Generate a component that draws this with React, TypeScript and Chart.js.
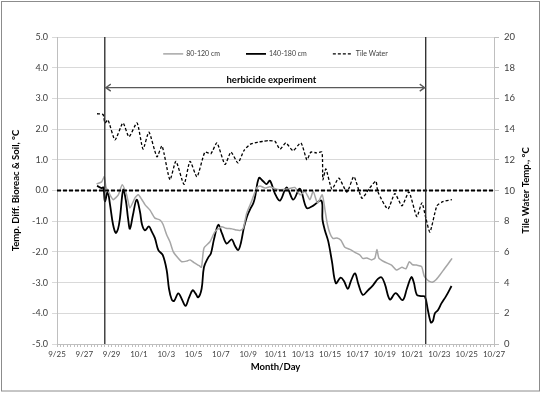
import React, { useEffect, useRef } from 'react';
import { Chart, registerables } from 'chart.js';

Chart.register(...registerables);

// x values are days after 9/25
const xMin = 0;
const xMax = 32;
const xTickLabels = ['9/25', '9/27', '9/29', '10/1', '10/3', '10/5', '10/7', '10/9', '10/11', '10/13', '10/15', '10/17', '10/19', '10/21', '10/23', '10/25', '10/27'];
const seriesNames = ['80-120 cm', '140-180 cm', 'Tile Water'];

const shallowDays = [2.90, 3.27, 3.46, 3.59, 3.76, 3.95, 4.12, 4.49, 4.78, 5.10, 5.34, 5.71, 5.95, 6.22, 6.44, 6.81, 7.17, 7.54, 7.76, 8.03, 8.27, 8.51, 8.88, 9.13, 9.49, 9.74, 10.03, 10.42, 10.58, 10.76, 11.20, 11.57, 12.06, 12.37, 12.81, 13.16, 13.40, 13.64, 13.89, 14.25, 14.62, 14.86, 15.23, 15.59, 16.20, 16.93, 17.42, 17.79, 18.16, 18.52, 18.76, 19.08, 19.42, 19.62, 19.80, 19.99, 20.20, 20.50, 20.79, 21.08, 21.45, 21.89, 22.18, 22.38, 22.69, 23.04, 23.28, 23.43, 23.57, 23.96, 24.50, 24.85, 25.26, 25.55, 25.80, 26.04, 26.33, 26.70, 26.89, 27.09, 27.31, 27.53, 27.77, 28.04, 28.37, 28.62, 28.93];
const shallowDiff = [0.21, 0.28, 0.45, 0.1, -0.03, -0.2, -0.3, -0.14, 0.19, -0.14, -0.57, -0.24, -0.14, -0.3, -0.46, -0.64, -0.9, -0.96, -1.1, -1.44, -1.67, -1.99, -2.21, -2.32, -2.3, -2.26, -2.35, -2.45, -2.5, -1.88, -1.67, -1.34, -1.18, -1.23, -1.25, -1.29, -1.3, -1.23, -0.74, -0.35, 0.08, 0.15, 0.08, 0.12, 0.03, 0.05, 0.1, -0.14, -0.03, -0.3, -0.03, -0.41, -0.14, -0.62, -1.1, -1.4, -1.56, -1.55, -1.62, -1.85, -1.92, -2.03, -2.1, -2.21, -2.2, -2.26, -2.2, -1.92, -2.2, -2.32, -2.43, -2.59, -2.5, -2.55, -2.32, -2.42, -2.43, -2.48, -2.79, -2.9, -2.97, -2.98, -2.9, -2.75, -2.55, -2.4, -2.21];

const deepDays = [2.93, 3.27, 3.40, 3.51, 3.71, 3.88, 4.10, 4.30, 4.47, 4.61, 4.85, 5.05, 5.20, 5.34, 5.56, 5.83, 6.08, 6.22, 6.44, 6.73, 6.95, 7.17, 7.42, 7.74, 8.03, 8.20, 8.40, 8.57, 8.88, 9.15, 9.41, 9.66, 9.93, 10.14, 10.34, 10.59, 10.76, 11.05, 11.27, 11.49, 11.81, 12.08, 12.42, 12.79, 13.03, 13.27, 13.47, 13.69, 13.91, 14.13, 14.37, 14.49, 14.79, 15.10, 15.35, 15.59, 15.96, 16.33, 16.82, 17.30, 17.79, 18.28, 18.74, 19.36, 19.44, 19.62, 19.86, 20.13, 20.42, 20.77, 21.01, 21.30, 21.52, 21.82, 22.07, 22.40, 22.77, 23.15, 23.50, 23.77, 24.01, 24.38, 24.80, 25.31, 25.62, 25.95, 26.13, 26.35, 26.65, 26.94, 27.16, 27.38, 27.53, 27.67, 27.89, 28.16, 28.48, 28.89];
const deepDiff = [0.15, 0.08, 0.1, -0.35, -0.05, -0.45, -1.1, -1.38, -1.25, -0.9, 0.03, -0.35, -0.9, -1.25, -0.8, -0.3, -0.7, -1.1, -1.3, -1.17, -1.35, -1.55, -1.94, -2.1, -2.59, -3.2, -3.55, -3.6, -3.35, -3.55, -3.76, -3.5, -3.25, -3.35, -3.48, -3.2, -2.5, -2.2, -2.05, -1.6, -1.12, -1.4, -1.73, -1.59, -1.8, -1.94, -1.7, -1.2, -0.85, -0.62, -0.42, -0.24, 0.41, 0.3, 0.21, 0.32, -0.1, -0.33, 0.1, -0.3, 0.06, -0.57, -0.5, -0.33, -0.95, -1.3, -1.65, -2.3, -3.02, -2.84, -2.95, -3.2, -2.95, -2.7, -3.05, -3.4, -3.25, -3.08, -2.88, -2.83, -3.05, -3.55, -3.34, -3.57, -3.2, -2.82, -3.0, -3.4, -3.44, -3.46, -3.9, -4.3, -4.25, -4.0, -3.9, -3.67, -3.45, -3.11];

const tileDays = [2.93, 3.37, 3.51, 3.73, 4.25, 4.83, 5.27, 5.86, 6.30, 6.73, 7.32, 7.69, 8.27, 8.71, 9.30, 9.74, 10.25, 10.83, 11.27, 11.71, 12.30, 12.74, 13.25, 13.69, 14.13, 14.71, 15.08, 15.50, 15.96, 16.33, 16.76, 17.28, 17.86, 18.30, 18.59, 19.00, 19.40, 19.47, 19.69, 20.13, 20.64, 21.23, 21.74, 22.33, 22.84, 23.35, 23.50, 24.23, 24.74, 25.26, 25.77, 26.35, 26.72, 27.01, 27.31, 27.82, 28.26, 28.92];
const tileTemp = [15.0, 14.95, 14.4, 14.6, 13.3, 14.4, 13.5, 14.4, 12.7, 13.8, 12.2, 12.9, 10.7, 11.9, 10.4, 11.9, 10.9, 12.5, 12.4, 13.1, 11.7, 12.5, 11.8, 12.6, 13.0, 13.15, 13.2, 13.25, 13.2, 12.7, 13.1, 12.6, 13.1, 12.0, 12.5, 12.45, 12.5, 10.7, 11.4, 10.1, 10.8, 9.9, 10.9, 9.5, 10.1, 10.6, 9.9, 8.8, 9.8, 9.0, 9.9, 8.3, 9.2, 8.2, 7.3, 9.0, 9.27, 9.4];

const experimentStart = 3.5;
const experimentEnd = 27;
const arrowLevel = 3.35;
const experimentLabel = 'herbicide experiment';
const experimentLabelDay = 15.7;
const experimentLabelLevel = 3.6;
const referenceLevel = 0;
const legendLevel = 4.45;
const rightTitle = 'Tile Water Temp., °C';

const FONT = 'Lato, "Liberation Sans", sans-serif';

const pts = (xs: number[], ys: number[]) => xs.map((x, i) => ({ x, y: ys[i] }));

const marksPlugin = {
  id: 'experimentMarks',
  afterDatasetsDraw(chart: any) {
    const { ctx, chartArea, scales } = chart;
    const xs = scales.x;
    const ys = scales.y;
    ctx.save();
    // reference dashed line
    const y0 = ys.getPixelForValue(referenceLevel);
    ctx.strokeStyle = '#000';
    ctx.lineWidth = 1.8;
    ctx.setLineDash([4, 2]);
    ctx.beginPath();
    ctx.moveTo(chartArea.left, y0);
    ctx.lineTo(chartArea.right, y0);
    ctx.stroke();
    ctx.setLineDash([]);
    // vertical lines
    ctx.strokeStyle = '#262626';
    ctx.lineWidth = 1.3;
    [experimentStart, experimentEnd].forEach((d) => {
      const px = xs.getPixelForValue(d);
      ctx.beginPath();
      ctx.moveTo(px, chartArea.top);
      ctx.lineTo(px, chartArea.bottom);
      ctx.stroke();
    });
    // arrow
    const xa = xs.getPixelForValue(experimentStart);
    const xb = xs.getPixelForValue(experimentEnd);
    const ya = ys.getPixelForValue(arrowLevel);
    ctx.strokeStyle = '#595959';
    ctx.lineWidth = 1.3;
    ctx.beginPath();
    ctx.moveTo(xa, ya);
    ctx.lineTo(xb, ya);
    ctx.moveTo(xa + 6, ya - 3.5);
    ctx.lineTo(xa + 1, ya);
    ctx.lineTo(xa + 6, ya + 3.5);
    ctx.moveTo(xb - 6, ya - 3.5);
    ctx.lineTo(xb - 1, ya);
    ctx.lineTo(xb - 6, ya + 3.5);
    ctx.stroke();
    // label
    ctx.fillStyle = '#000';
    ctx.font = 'bold 9.5px ' + FONT;
    ctx.textAlign = 'center';
    ctx.textBaseline = 'middle';
    ctx.fillText(experimentLabel, xs.getPixelForValue(experimentLabelDay), ys.getPixelForValue(experimentLabelLevel));

    // legend (inside plot area)
    const sample = 20;
    const gapText = 3;
    const gapItem = 26;
    ctx.font = '7px ' + FONT;
    const widths = chart.data.datasets.map((ds: any) => ctx.measureText(ds.label).width);
    const total = widths.reduce((a: number, w: number) => a + sample + gapText + w, 0) + gapItem * (widths.length - 1);
    let cx = (chartArea.left + chartArea.right) / 2 - total / 2;
    const ly = ys.getPixelForValue(legendLevel);
    chart.data.datasets.forEach((ds: any, i: number) => {
      ctx.strokeStyle = ds.borderColor;
      ctx.lineWidth = ds.borderWidth;
      ctx.setLineDash(ds.borderDash || []);
      ctx.beginPath();
      ctx.moveTo(cx, ly);
      ctx.lineTo(cx + sample, ly);
      ctx.stroke();
      ctx.setLineDash([]);
      ctx.fillStyle = '#404040';
      ctx.textAlign = 'left';
      ctx.textBaseline = 'middle';
      ctx.fillText(ds.label, cx + sample + gapText, ly);
      cx += sample + gapText + widths[i] + gapItem;
    });

    // right axis title (reads bottom to top)
    const ry = scales.y1;
    ctx.save();
    ctx.translate(526, (ry.top + ry.bottom) / 2);
    ctx.rotate(-Math.PI / 2);
    ctx.fillStyle = '#000';
    ctx.font = 'bold 9.5px ' + FONT;
    ctx.textAlign = 'center';
    ctx.textBaseline = 'middle';
    ctx.fillText(rightTitle, 0, 0);
    ctx.restore();
    ctx.restore();
  },
  afterDraw(chart: any) {
    const { ctx } = chart;
    ctx.save();
    ctx.strokeStyle = '#8c8c8c';
    ctx.lineWidth = 1;
    ctx.strokeRect(1.5, 1.5, 538, 389.5);
    ctx.restore();
  },
};

export default function App() {
  const canvasRef = useRef<HTMLCanvasElement | null>(null);

  useEffect(() => {
    document.body.style.margin = '0';
    const canvas = canvasRef.current;
    if (!canvas) return;
    const chart = new Chart(canvas, {
      type: 'line',
      data: {
        datasets: [
          {
            label: seriesNames[0],
            data: pts(shallowDays, shallowDiff),
            borderColor: '#a6a6a6',
            backgroundColor: '#a6a6a6',
            borderWidth: 1.5,
            pointRadius: 0,
            tension: 0.2,
            yAxisID: 'y',
          },
          {
            label: seriesNames[1],
            data: pts(deepDays, deepDiff),
            borderColor: '#000000',
            backgroundColor: '#000000',
            borderWidth: 1.8,
            pointRadius: 0,
            tension: 0.35,
            yAxisID: 'y',
          },
          {
            label: seriesNames[2],
            data: pts(tileDays, tileTemp),
            borderColor: '#000000',
            backgroundColor: '#000000',
            borderWidth: 1.3,
            borderDash: [3, 2],
            pointRadius: 0,
            tension: 0.2,
            yAxisID: 'y1',
          },
        ],
      },
      options: {
        animation: false,
        responsive: true,
        maintainAspectRatio: false,
        layout: { padding: { left: 8, top: 37, right: 8, bottom: 19 } },
        plugins: {
          tooltip: { enabled: false },
          legend: { display: false },
        },
        scales: {
          x: {
            type: 'linear',
            min: xMin,
            max: xMax,
            afterBuildTicks: (scale: any) => {
              const t = [];
              for (let i = 0; i <= (xMax - xMin) * 4; i++) t.push({ value: xMin + i / 4 });
              scale.ticks = t;
            },
            afterFit: (scale: any) => {
              scale.height = 394 - 344 - 19;
            },
            ticks: {
              autoSkip: false,
              maxRotation: 0,
              padding: 3,
              color: '#404040',
              font: { family: FONT, size: 8 },
              callback: (v: any) => {
                const r = Math.round(v);
                if (Math.abs(v - r) < 1e-6 && r % 2 === 0) return xTickLabels[r / 2];
                return '';
              },
            },
            grid: { drawOnChartArea: false, drawTicks: true, tickLength: 3, color: '#bfbfbf' },
            border: { display: true, color: '#bfbfbf' },
            title: {
              display: true,
              text: 'Month/Day',
              color: '#000',
              font: { family: FONT, size: 9.5, weight: 'bold' },
              padding: { top: 0, bottom: 2 },
            },
          },
          y: {
            type: 'linear',
            position: 'left',
            min: -5,
            max: 5,
            afterFit: (scale: any) => {
              scale.width = 57 - 8;
            },
            ticks: {
              stepSize: 1,
              padding: 4,
              color: '#404040',
              font: { family: FONT, size: 9 },
              callback: (v: any) => Number(v).toFixed(1),
            },
            grid: { color: '#d9d9d9', tickLength: 5 },
            border: { display: true, color: '#bfbfbf' },
            title: {
              display: true,
              text: 'Temp. Diff. Bioreac & Soil, °C',
              color: '#000',
              font: { family: FONT, size: 9.5, weight: 'bold' },
              padding: { top: 2, bottom: 0 },
            },
          },
          y1: {
            type: 'linear',
            position: 'right',
            min: 0,
            max: 20,
            afterFit: (scale: any) => {
              scale.width = 542 - 494 - 8;
            },
            ticks: {
              stepSize: 2,
              padding: 5,
              color: '#404040',
              font: { family: FONT, size: 9.5 },
            },
            grid: { drawOnChartArea: false, tickLength: 5, color: '#bfbfbf' },
            border: { display: true, color: '#bfbfbf' },
            title: { display: false },
          },
        },
      },
      plugins: [marksPlugin],
    } as any);
    return () => chart.destroy();
  }, []);

  return (
    <div style={{ position: 'relative', width: 542, height: 394 }}>
      <canvas ref={canvasRef} />
    </div>
  );
}
